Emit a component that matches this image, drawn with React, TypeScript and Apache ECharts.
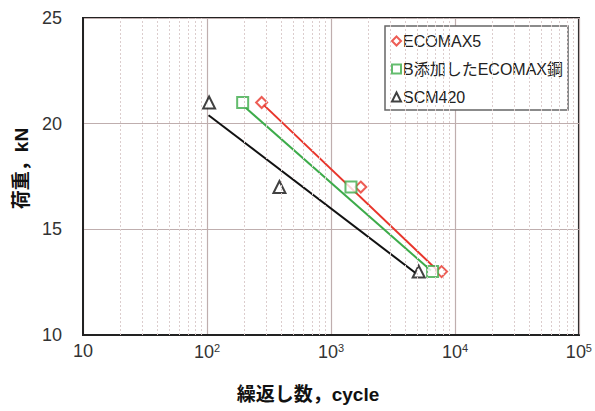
import React, { useEffect, useRef } from "react";
import * as echarts from "echarts";

const seriesNames = ["ECOMAX5", "B添加したECOMAX鋼", "SCM420"];
const seriesColors = ["#e8352b", "#3dab4a", "#111111"];
const seriesSymbols = ["emptyDiamond", "emptyRect", "emptyTriangle"];
const legendIcons = ["diamond", "rect", "triangle"];

const ecomax5Points = [[276, 21], [1740, 17], [7800, 13]];
const bEcomaxPoints = [[194, 21], [1450, 17], [6600, 13]];
const scm420Points = [[104, 21], [384, 17], [5100, 13]];

const ecomax5Fit = [[285, 20.9], [7400, 13.0]];
const bEcomaxFit = [[205, 20.75], [6400, 13.05]];
const scm420Fit = [[103, 20.4], [4900, 12.9]];

const minorGridValues = [
  20, 30, 40, 50, 60, 70, 80, 90,
  200, 300, 400, 500, 600, 700, 800, 900,
  2000, 3000, 4000, 5000, 6000, 7000, 8000, 9000,
  20000, 30000, 40000, 50000, 60000, 70000, 80000, 90000,
];

const yTicks = [10, 15, 20, 25];

const FONT = "'Liberation Sans', 'Noto Sans CJK JP', sans-serif";

export default function App() {
  const ref = useRef<HTMLDivElement>(null);
  useEffect(() => {
    if (!ref.current) return;
    const chart = echarts.init(ref.current, null, { renderer: "svg" });
    const pointSets = [ecomax5Points, bEcomaxPoints, scm420Points];
    const fitSets = [ecomax5Fit, bEcomaxFit, scm420Fit];
    const sizes = [11, 11, 12];
    const series: any[] = [];
    series.push({
      type: "line",
      data: [],
      silent: true,
      markLine: {
        silent: true,
        symbol: ["none", "none"],
        label: { show: false },
        lineStyle: { type: [2, 2], color: "#dccdcd", width: 1 },
        data: minorGridValues.map((v) => ({ xAxis: v })),
      },
    });
    fitSets.forEach((d, i) => {
      series.push({
        type: "line",
        data: d,
        showSymbol: false,
        silent: true,
        lineStyle: { color: seriesColors[i], width: 2 },
        z: 3,
      });
    });
    pointSets.forEach((d, i) => {
      series.push({
        name: seriesNames[i],
        type: "scatter",
        data: d,
        symbol: seriesSymbols[i],
        symbolSize: sizes[i],
        itemStyle: { color: seriesColors[i], borderWidth: 2 },
        z: 4,
      });
    });
    chart.setOption({
      animation: false,
      backgroundColor: "#ffffff",
      textStyle: { fontFamily: FONT },
      grid: {
        left: 83,
        right: 13,
        top: 18,
        bottom: 76,
        show: true,
        borderColor: "#222",
        borderWidth: 2,
      },
      legend: {
        data: seriesNames.map((n, i) => ({
          name: n,
          icon: legendIcons[i],
          itemStyle: { color: "#fff", borderColor: seriesColors[i], borderWidth: 2 },
        })),
        orient: "vertical",
        left: 385,
        top: 26,
        backgroundColor: "#fff",
        borderColor: "#666",
        borderWidth: 1.5,
        padding: [6, 5, 4, 6],
        itemGap: 10,
        itemWidth: 9,
        itemHeight: 9,
        textStyle: { fontSize: 16, lineHeight: 18, color: "#222", fontFamily: FONT, padding: [0, 0, 0, -3] },
        selectedMode: false,
      },
      xAxis: {
        type: "log",
        logBase: 10,
        min: 10,
        max: 100000,
        name: "繰返し数，cycle",
        nameLocation: "middle",
        nameGap: 50,
        nameTextStyle: {
          fontSize: 19,
          fontWeight: "bold",
          color: "#111",
          fontFamily: FONT,
          padding: [0, 46, 0, 0],
        },
        axisLine: { lineStyle: { color: "#222", width: 2 } },
        axisTick: { show: false },
        axisLabel: {
          fontSize: 18,
          color: "#333",
          margin: 7,
          formatter: (v: number) => {
            const e = Math.round(Math.log10(v));
            return e === 1 ? "10" : "10{s|" + e + "}";
          },
          rich: { s: { fontSize: 11, verticalAlign: "top", padding: [0, 0, 9, 0], color: "#333" } },
        },
        splitLine: { show: true, lineStyle: { color: "#bfaeae", width: 1.2 } },
      },
      yAxis: {
        type: "value",
        min: 10,
        max: 25,
        interval: 5,
        name: "荷重，kN",
        nameLocation: "middle",
        nameGap: 51,
        nameTextStyle: {
          fontSize: 19,
          fontWeight: "bold",
          color: "#111",
          fontFamily: FONT,
          padding: [0, 0, 0, 16],
        },
        axisLine: { lineStyle: { color: "#222", width: 2 } },
        axisTick: { show: false },
        axisLabel: {
          fontSize: 18,
          color: "#333",
          margin: 21,
          formatter: (v: number) => (yTicks.includes(v) ? String(v) : ""),
        },
        splitLine: { show: true, lineStyle: { color: "#bfaeae", width: 1.2 } },
      },
      series,
    });
    return () => chart.dispose();
  }, []);
  return <div ref={ref} style={{ width: 595, height: 411, position: "absolute", left: 0, top: 0 }} />;
}
